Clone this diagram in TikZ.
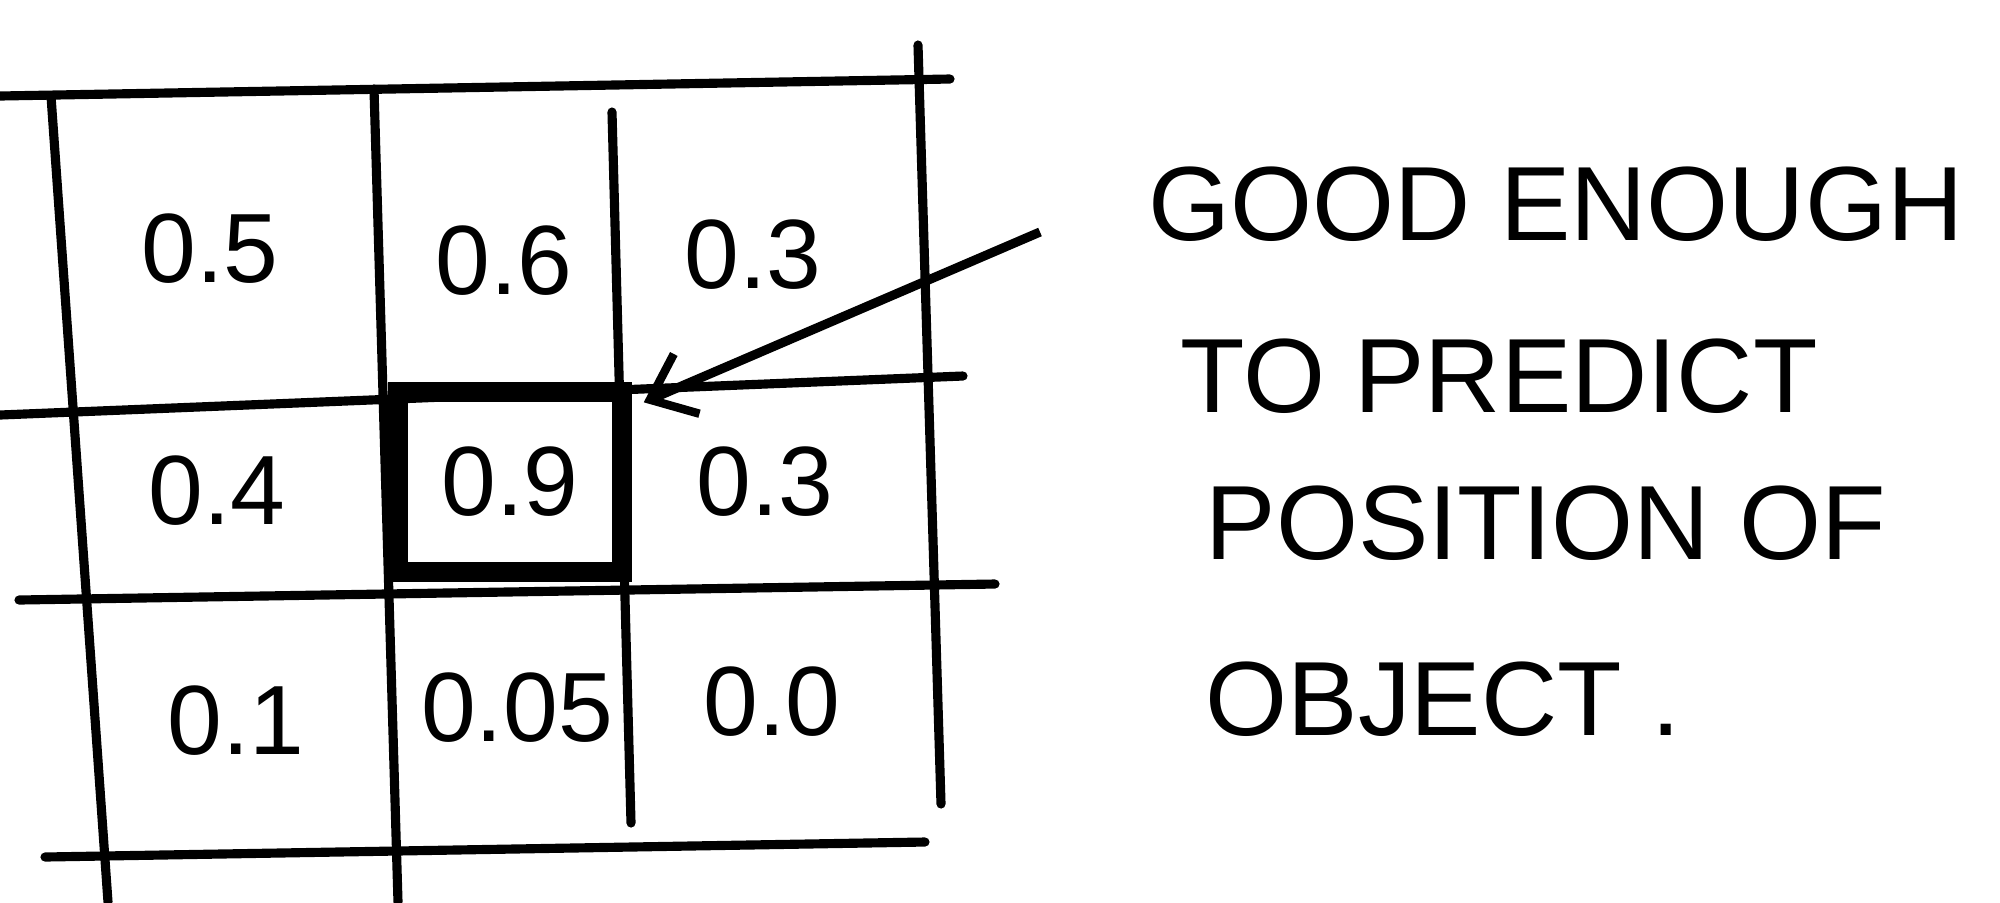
\documentclass[tikz,border=0pt]{standalone}
\usepackage{fontspec}
\setmainfont{Liberation Sans}
\usetikzlibrary{arrows.meta}
\tikzstyle{gridline}=[line width=2.6pt,line cap=round]
\tikzstyle{num}=[inner sep=0pt,font=\fontsize{28}{30}\selectfont]
\tikzstyle{note}=[anchor=west,inner sep=0pt,font=\fontsize{30}{34}\selectfont]
\tikzstyle{hot}=[draw,line width=5.5pt,minimum width=2.24cm,minimum height=1.8cm,inner sep=0pt,font=\fontsize{28}{30}\selectfont]

\begin{document}
\begin{tikzpicture}[x=0.01cm,y=-0.01cm]
\useasboundingbox (0,0) rectangle (2000,902);
% grid
\draw[gridline] (0,96) -- (950,79);
\draw[gridline] (0,415) -- (963,376);
\draw[gridline] (19,600) -- (995,584);
\draw[gridline] (45,857) -- (925,842);
\draw[gridline] (51,96) -- (108,902);
\draw[gridline] (374,89) -- (398,902);
\draw[gridline] (612,112) -- (631,823);
\draw[gridline] (918,45) -- (941,804);
% scores
\node[num] (c11) at (210,249) {0.5};
\node[num] (c12) at (504,261) {0.6};
\node[num] (c13) at (753,255) {0.3};
\node[num] (c21) at (217,491) {0.4};
\node[hot] (best) at (510,482) {0.9};
\node[num] (c23) at (765,482) {0.3};
\node[num] (c31) at (236,721) {0.1};
\node[num] (c32) at (517,708) {0.05};
\node[num] (c33) at (772,702) {0.0};
% remark
\node[note] (l1) at (1148,204) {GOOD ENOUGH};
\node[note] (l2) at (1180,376) {TO PREDICT};
\node[note] (l3) at (1205,523) {POSITION OF};
\node[note] (l4) at (1205,699) {OBJECT .};
\coordinate (tail) at (1040,232);
\draw[line width=2.6pt,-{Straight Barb[length=0.4cm,width=0.65cm,line width=2.4pt]}] (tail) -- ([xshift=0.12cm,yshift=-0.2cm]best.north east);
\end{tikzpicture}
\end{document}
